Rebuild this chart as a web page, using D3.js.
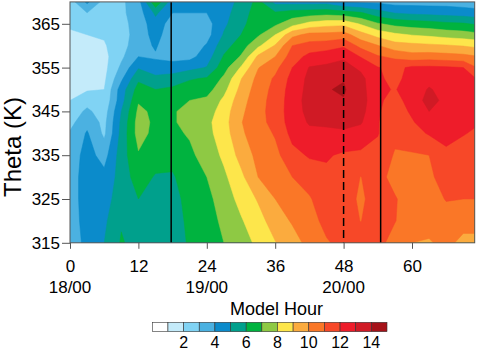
<!DOCTYPE html>
<html>
<head>
<meta charset="utf-8">
<script src="https://cdn.jsdelivr.net/npm/d3@7"></script>
<style>
body { margin: 0; background: #fff; }
svg { display: block; font-family: "Liberation Sans", Arial, Helvetica, sans-serif; }
</style>
</head>
<body>
<div id="container"></div>
<script>
// model hours of the grid columns
var hours = [0, 3, 6, 9, 12, 15, 18, 21, 24, 27, 30, 33, 36, 39, 42, 45, 48, 51, 54, 57, 60, 63, 66, 69, 71];
// theta levels of the grid rows, top to bottom
var thetas = [370, 367.5, 365, 362.5, 360, 357.5, 355, 352.5, 350, 347.5, 345, 342.5, 340, 335, 330, 325, 320, 315];
// model hour values, one row per theta level
var modelHour = [
	[2.5, 4.2, 2.6, 2.8, 3.6, 6.8, 4.4, 4.5, 4.4, 4.5, 5.3, 6.3, 4.7, 4.6, 4.6, 4.6, 4.0, 3.8, 3.8, 3.6, 3.6, 3.6, 3.6, 3.5, 3.4],
	[2.3, 3.0, 2.5, 2.8, 3.5, 5.2, 4.0, 4.0, 4.0, 4.65, 5.5, 6.5, 6.1, 6.4, 6.5, 6.6, 6.4, 6.1, 5.4, 4.95, 4.8, 4.7, 4.6, 4.5, 4.4],
	[2.1, 2.4, 2.3, 2.7, 3.4, 4.6, 3.5, 3.5, 3.6, 4.8, 5.7, 6.65, 6.8, 7.6, 8.3, 8.6, 8.7, 7.9, 7.1, 6.7, 6.5, 6.4, 6.2, 6.1, 5.9],
	[1.9, 2.0, 2.1, 2.6, 3.4, 4.4, 3.3, 3.3, 3.6, 5.1, 6.0, 6.85, 8.0, 9.7, 10.3, 10.3, 10.45, 9.4, 8.65, 8.2, 7.95, 7.8, 7.6, 7.45, 7.3],
	[1.6, 1.7, 1.9, 2.6, 3.6, 4.1, 3.3, 3.4, 4.1, 5.6, 6.5, 7.8, 9.1, 11.0, 11.4, 11.55, 11.85, 10.7, 10.05, 9.4, 9.3, 9.2, 9.1, 8.95, 8.8],
	[1.5, 1.5, 1.7, 2.8, 4.0, 3.9, 3.6, 3.7, 4.5, 6.1, 7.1, 9.2, 10.0, 11.5, 12.3, 12.55, 12.85, 11.95, 11.1, 10.8, 10.4, 10.5, 10.4, 10.3, 10.1],
	[1.4, 1.4, 1.7, 3.2, 4.9, 4.3, 4.5, 4.7, 5.05, 6.6, 8.1, 9.95, 10.7, 12.0, 13.05, 13.2, 13.35, 12.8, 12.05, 11.7, 12.2, 12.2, 12.15, 12.0, 11.1],
	[1.5, 1.5, 1.8, 3.8, 5.8, 5.3, 5.4, 5.9, 6.1, 7.2, 8.95, 10.3, 11.15, 12.3, 13.25, 13.85, 13.95, 13.3, 12.15, 11.75, 12.35, 12.65, 12.4, 12.3, 12.1],
	[1.7, 1.9, 2.0, 4.5, 6.4, 6.0, 6.2, 6.5, 6.6, 7.7, 9.3, 10.5, 11.3, 12.45, 13.3, 13.95, 14.1, 13.4, 12.15, 11.95, 12.4, 13.1, 12.6, 12.45, 12.3],
	[2.0, 2.6, 2.2, 4.6, 6.9, 6.4, 6.6, 7.0, 7.2, 8.2, 9.6, 10.6, 11.4, 12.5, 13.4, 13.85, 13.95, 13.5, 12.15, 11.7, 12.35, 13.4, 12.7, 12.5, 12.35],
	[2.4, 3.2, 2.5, 5.0, 7.2, 6.8, 6.9, 7.3, 7.5, 8.5, 9.8, 10.65, 11.45, 12.5, 13.3, 13.5, 13.55, 13.35, 12.1, 11.5, 12.15, 13.0, 12.65, 12.45, 12.3],
	[2.7, 3.7, 2.7, 5.2, 7.4, 6.8, 6.9, 7.3, 7.75, 8.6, 9.95, 10.6, 11.4, 12.45, 13.1, 13.15, 13.25, 13.1, 12.05, 11.35, 11.9, 12.55, 12.5, 12.3, 12.1],
	[3.1, 4.1, 2.8, 5.3, 7.4, 6.7, 6.8, 7.1, 7.7, 8.5, 9.85, 10.5, 11.1, 12.3, 12.75, 12.8, 12.85, 12.6, 12.05, 11.25, 11.6, 12.1, 12.3, 12.05, 11.9],
	[3.4, 4.4, 3.6, 5.5, 6.9, 6.5, 6.3, 6.8, 7.4, 8.2, 9.35, 10.3, 10.7, 11.7, 12.1, 12.1, 11.85, 11.8, 11.7, 10.9, 10.9, 11.0, 11.8, 11.6, 11.6],
	[3.5, 4.5, 4.3, 5.4, 6.5, 5.9, 5.9, 6.5, 7.0, 7.8, 8.75, 10.0, 10.35, 11.0, 11.45, 11.8, 11.5, 10.98, 11.4, 10.6, 10.5, 10.8, 11.45, 11.3, 11.3],
	[3.5, 4.5, 4.6, 5.5, 6.0, 5.7, 5.7, 6.3, 6.7, 7.5, 8.3, 9.1, 10.0, 10.5, 10.9, 11.6, 11.4, 10.85, 11.4, 11.1, 10.4, 10.6, 11.05, 11.0, 11.0],
	[3.5, 4.4, 4.8, 5.9, 5.7, 5.6, 5.6, 6.2, 6.5, 7.25, 7.9, 8.6, 9.5, 10.1, 10.6, 11.3, 11.4, 10.98, 11.4, 11.05, 10.3, 10.4, 10.6, 10.4, 10.4],
	[3.4, 4.3, 5.0, 6.1, 5.6, 5.5, 5.6, 6.1, 6.4, 7.0, 7.6, 8.2, 8.95, 9.6, 10.3, 10.9, 11.3, 11.4, 11.4, 10.5, 10.0, 9.9, 10.3, 9.7, 9.7]
];

var levels = d3.range(1, 15);
var fillColors = ['#ffffff', '#c4ebfa', '#80d3f4', '#4bb1e1', '#0b8bcb', '#00a08c', '#00b33f', '#8ec944', '#fde64b', '#fbab3e', '#fa7727', '#f74828', '#ee1c2a', '#d01a25', '#a51219'];
var barLabels = [2, 4, 6, 8, 10, 12, 14];

var xTicks = [0, 12, 24, 36, 48, 60];
var dayTicks = [0, 24, 48];
var dayLabels = ['18/00', '19/00', '20/00'];
var yTicks = [315, 325, 335, 345, 355, 365];

// vertical marker lines: hour and dashed or not
var markerHours = [17.75, 48, 54.5];
var markerDashed = [false, true, false];

var plot = { left: 70, right: 474.7, top: 1.9, bottom: 242.8 };

var svg = d3.select('#container').append('svg')
	.attr('width', 477)
	.attr('height', 350);

var x = d3.scaleLinear().domain([0, 71]).range([plot.left, plot.right]);
var y = d3.scaleLinear().domain([315, 370]).range([plot.bottom, plot.top]);

draw();

function draw() {

	var nx = hours.length, ny = thetas.length;
	var flat = [];
	modelHour.forEach(function(row) { row.forEach(function(v) { flat.push(v); }); });

	// grid index -> data coordinate (piecewise, the grid is not evenly spaced)
	var colHour = d3.scaleLinear().domain(d3.range(nx)).range(hours);
	var rowTheta = d3.scaleLinear().domain(d3.range(ny)).range(thetas);

	var proj = d3.geoTransform({
		point: function(gx, gy) {
			var i = Math.max(0, Math.min(nx - 1, gx - 0.5));
			var j = Math.max(0, Math.min(ny - 1, gy - 0.5));
			this.stream.point(x(colHour(i)), y(rowTheta(j)));
		}
	});
	var path = d3.geoPath(proj);

	var contours = d3.contours()
		.size([nx, ny])
		.thresholds(levels)(flat);

	svg.append('clipPath')
		.attr('id', 'plotclip')
		.append('rect')
		.attr('x', plot.left)
		.attr('y', plot.top)
		.attr('width', plot.right - plot.left)
		.attr('height', plot.bottom - plot.top);

	var g = svg.append('g').attr('clip-path', 'url(#plotclip)');

	g.append('rect')
		.attr('x', plot.left)
		.attr('y', plot.top)
		.attr('width', plot.right - plot.left)
		.attr('height', plot.bottom - plot.top)
		.style('fill', fillColors[0]);

	g.selectAll('path.band')
		.data(contours)
		.enter().append('path')
		.attr('class', 'band')
		.attr('d', path)
		.style('fill', function(d) { return fillColors[levels.indexOf(d.value) + 1]; })
		.style('stroke', function(d) { return fillColors[levels.indexOf(d.value) + 1]; })
		.style('stroke-width', 0.5);

	markerHours.forEach(function(h, i) {
		g.append('line')
			.attr('x1', x(h))
			.attr('x2', x(h))
			.attr('y1', plot.top)
			.attr('y2', plot.bottom)
			.attr('stroke', '#000')
			.attr('stroke-width', 1.5)
			.attr('stroke-dasharray', markerDashed[i] ? '8,4' : null);
	});

	// frame
	svg.append('rect')
		.attr('x', plot.left)
		.attr('y', plot.top)
		.attr('width', plot.right - plot.left)
		.attr('height', plot.bottom - plot.top)
		.style('fill', 'none')
		.attr('stroke', '#555')
		.attr('stroke-width', 1);

	// x axis
	var xAxis = svg.append('g')
		.attr('transform', 'translate(0,' + plot.bottom + ')')
		.call(d3.axisBottom(x).tickValues(xTicks).tickSize(6).tickSizeOuter(0).tickPadding(10.7));
	xAxis.select('.domain').remove();
	xAxis.selectAll('line').attr('stroke', '#555');
	xAxis.selectAll('text').style('font-size', '17px').attr('fill', '#000');

	svg.selectAll('text.day')
		.data(dayTicks)
		.enter().append('text')
		.attr('class', 'day')
		.attr('x', function(d) { return x(d); })
		.attr('y', 292.7)
		.attr('text-anchor', 'middle')
		.style('font-size', '17px')
		.text(function(d, i) { return dayLabels[i]; });

	// y axis
	var yAxis = svg.append('g')
		.attr('transform', 'translate(' + plot.left + ',0)')
		.call(d3.axisLeft(y).tickValues(yTicks).tickSize(8).tickSizeOuter(0).tickPadding(2));
	yAxis.select('.domain').remove();
	yAxis.selectAll('line').attr('stroke', '#555');
	yAxis.selectAll('text').style('font-size', '17px').attr('fill', '#000');

	svg.append('text')
		.attr('transform', 'translate(20.5,147) rotate(-90)')
		.attr('text-anchor', 'middle')
		.style('font-size', '24px')
		.text('Theta (K)');

	// label bar
	var bx = d3.scaleLinear().domain([0, fillColors.length]).range([152.3, 387]);
	svg.append('text')
		.attr('x', 276.5)
		.attr('y', 315)
		.attr('text-anchor', 'middle')
		.style('font-size', '18px')
		.text('Model Hour');

	svg.selectAll('rect.box')
		.data(fillColors)
		.enter().append('rect')
		.attr('class', 'box')
		.attr('x', function(d, i) { return bx(i); })
		.attr('y', 322.3)
		.attr('width', bx(1) - bx(0))
		.attr('height', 9.4)
		.style('fill', function(d) { return d; })
		.attr('stroke', '#333')
		.attr('stroke-width', 0.6);

	svg.selectAll('text.barlab')
		.data(barLabels)
		.enter().append('text')
		.attr('class', 'barlab')
		.attr('x', function(d) { return bx(d); })
		.attr('y', 348)
		.attr('text-anchor', 'middle')
		.style('font-size', '16px')
		.text(function(d) { return d; });
}
</script>
</body>
</html>
